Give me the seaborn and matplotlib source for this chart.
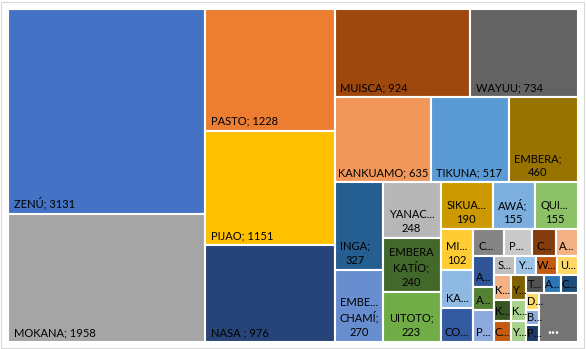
import matplotlib
matplotlib.use("Agg")
import matplotlib.pyplot as plt
import seaborn as sns
from matplotlib.patches import Rectangle

# ---- data ----
labels = ["ZENÚ; 3131", "MOKANA; 1958",
          "PASTO; 1228", "PIJAO; 1151", "NASA ; 976",
          "MUISCA; 924", "WAYUU; 734",
          "KANKUAMO; 635", "TIKUNA; 517", "EMBERA;\n460",
          "INGA;\n327", "EMBE...\nCHAMÍ;\n270",
          "YANAC...\n248", "EMBERA\nKATÍO;\n240", "UITOTO;\n223",
          "SIKUA...\n190", "AWÁ;\n155", "QUI...\n155",
          "MI...\n102", "KA...", "CO...",
          "C...", "P...", "C...", "A...",
          "A...", "A...", "P...",
          "S...", "Y...", "W...", "U...",
          "K...", "K...", "C...",
          "Y...", "K...", "Y...",
          "T...", "A...", "C...",
          "D...", "B...", "P...",
          "..."]
values = [3131, 1958,
          1228, 1151, 976,
          924, 734,
          635, 517, 460,
          327, 270,
          248, 240, 223,
          190, 155, 155,
          102, 98, 85,
          63, 60, 49, 46,
          49, 36, 50,
          31, 31, 31, 30,
          33, 28, 28,
          30, 25, 25,
          25, 24, 24,
          17, 16, 17,
          147]
colors = ["#4472C4", "#A5A5A5",
          "#ED7D31", "#FFC000", "#264478",
          "#9E480E", "#636363",
          "#F1975A", "#5B9BD5", "#997300",
          "#255E91", "#698ED0",
          "#B7B7B7", "#43682B", "#70AD47",
          "#CC9A00", "#7CAFDD", "#8CC168",
          "#FFCD33", "#8DB9E2", "#335AA1",
          "#848484", "#C9C9C9", "#843C0C", "#F4B183",
          "#2F5597", "#548235", "#8FAADC",
          "#BFBFBF", "#9DC3E6", "#C55A11", "#FFD966",
          "#F4B183", "#375623", "#C55A11",
          "#7F6000", "#A9D18E", "#A9D18E",
          "#525252", "#2E75B6", "#1F4E79",
          "#FFD966", "#8FAADC", "#203864",
          "#747474"]
# strip structure of the layout (items per strip, v = column on left, h = row on top)
strip_sizes = [2, 3, 2, 3, 2, 3, 3, 3, 4, 3, 4, 3, 3, 3, 3, 1]
strip_dirs = ["v", "v", "h", "h", "v", "v", "h", "v", "h", "v", "h", "v", "v", "h", "v", "v"]

sns.set_theme(style="white")
plt.rcParams["font.family"] = ["Lato", "DejaVu Sans"]

FW, FH = 586, 349
W, H = 570.0, 333.0
fig = plt.figure(figsize=(FW / 100, FH / 100), dpi=100)
fig.patch.set_facecolor("white")
fig.patches.append(Rectangle((1 / FW, 1 / FH), (FW - 3) / FW, (FH - 3) / FH,
                             transform=fig.transFigure, fill=False,
                             edgecolor="#D9D9D9", linewidth=0.8))
ax = fig.add_axes([8 / FW, (FH - 342) / FH, W / FW, H / FH])
ax.set_xlim(0, W)
ax.set_ylim(H, 0)
ax.axis("off")

# squarified-strip layout computed from the values
scale = W * H / sum(values)
rects = []
x0, y0, w, h = 0.0, 0.0, W, H
i = 0
for n, d in zip(strip_sizes, strip_dirs):
    vals = values[i:i + n]
    area = sum(vals) * scale
    if d == "v":
        sw = area / h
        yy = y0
        for v in vals:
            hh = v * scale / sw
            rects.append((x0, yy, sw, hh))
            yy += hh
        x0 += sw
        w -= sw
    else:
        sh = area / w
        xx = x0
        for v in vals:
            ww = v * scale / sh
            rects.append((xx, y0, ww, sh))
            xx += ww
        y0 += sh
        h -= sh
    i += n

xs = [r[0] for r in rects]
ys = [r[1] for r in rects]
ws = [r[2] for r in rects]
hs = [r[3] for r in rects]
ax.bar(xs, hs, width=ws, bottom=ys, align="edge", color=colors,
       edgecolor="white", linewidth=1.5)

fig.canvas.draw()
renderer = fig.canvas.get_renderer()
for (x, y, rw, rh), lab in zip(rects, labels):
    is_more = lab == "..."
    t = ax.text(x, y + rh, lab, ha="left", va="bottom", multialignment="center",
                fontsize=12 if is_more else 8, linespacing=1.35,
                color="white" if is_more else "black",
                fontweight="bold" if is_more else "normal")
    bb = t.get_window_extent(renderer)
    tw, th = bb.width, bb.height
    pad0 = 8.0 if is_more else 5.5
    padx = pad0 if tw + 2 * pad0 <= rw else max((rw - tw) / 2, 1.0)
    pady = min(5.0 if is_more else 4.0, max((rh - th) / 2, 0.0))
    t.set_position((x + padx, y + rh - pady))

fig.savefig("out.png", dpi=100, facecolor="white")
